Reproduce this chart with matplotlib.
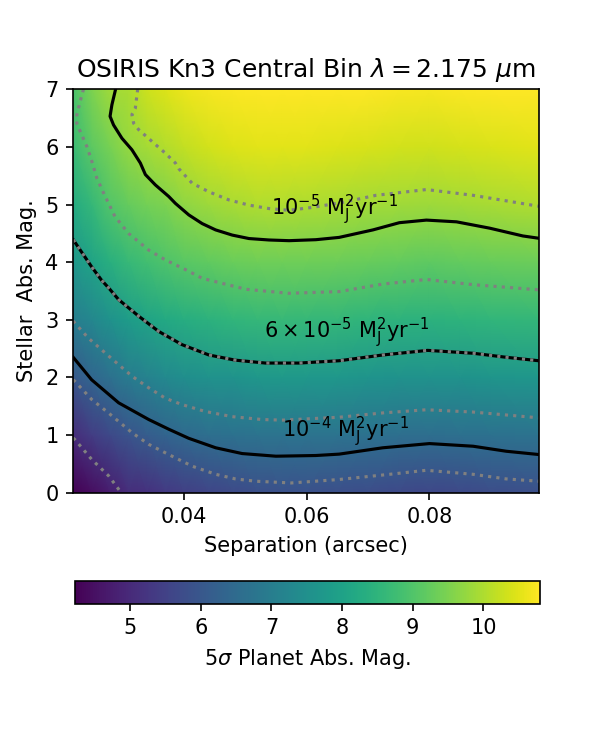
import numpy as np
import matplotlib.pyplot as plt

# sensitivity map: 5-sigma planet abs. mag on a (stellar mag x separation) grid
sep = [0.022, 0.025, 0.028, 0.031, 0.034, 0.037, 0.040, 0.044, 0.048, 0.052,
       0.056, 0.060, 0.065, 0.070, 0.075, 0.080, 0.085, 0.090, 0.0978]
stellar_mag = [0, 1, 2, 3, 4, 5, 6, 7]
planet_mag = [
    [4.22, 4.45, 4.75, 5.05, 5.13, 5.30, 5.45, 5.57, 5.70, 5.80, 5.84, 5.84, 5.80, 5.74, 5.67, 5.63, 5.68, 5.75, 5.82],
    [5.05, 5.40, 5.67, 5.93, 6.14, 6.32, 6.47, 6.60, 6.67, 6.72, 6.73, 6.73, 6.72, 6.67, 6.61, 6.58, 6.62, 6.68, 6.73],
    [6.04, 6.36, 6.65, 6.97, 7.13, 7.32, 7.45, 7.56, 7.60, 7.70, 7.75, 7.74, 7.69, 7.63, 7.57, 7.54, 7.57, 7.65, 7.71],
    [7.01, 7.26, 7.55, 7.83, 8.04, 8.20, 8.33, 8.43, 8.52, 8.59, 8.62, 8.61, 8.57, 8.51, 8.45, 8.42, 8.47, 8.53, 8.58],
    [7.71, 8.04, 8.38, 8.62, 8.81, 8.96, 9.08, 9.19, 9.29, 9.34, 9.36, 9.35, 9.31, 9.26, 9.21, 9.18, 9.22, 9.27, 9.31],
    [8.25, 8.60, 9.02, 9.25, 9.40, 9.51, 9.67, 9.84, 9.95, 10.01, 10.02, 10.00, 9.95, 9.90, 9.85, 9.83, 9.88, 9.94, 10.02],
    [8.70, 9.13, 9.45, 9.75, 9.92, 10.05, 10.20, 10.35, 10.45, 10.50, 10.50, 10.50, 10.45, 10.40, 10.36, 10.33, 10.38, 10.43, 10.50],
    [8.90, 9.50, 9.85, 9.97, 10.30, 10.45, 10.60, 10.70, 10.75, 10.80, 10.80, 10.80, 10.80, 10.78, 10.74, 10.72, 10.75, 10.78, 10.80],
]

# grey dotted lines: planet abs. mag = 5 ... 10 (mag 8 runs along the 6e-5 line)
mag5_sep = [0.0220, 0.0223, 0.0250, 0.0278, 0.0294, 0.0298]
mag5_y = [0.95, 0.92, 0.58, 0.29, 0.06, 0.0]
mag6_sep = [0.0220, 0.0223, 0.0250, 0.0278, 0.0316, 0.0343, 0.0376, 0.0414, 0.0452,
            0.0484, 0.0517, 0.0575, 0.0653, 0.0735, 0.0795, 0.0871, 0.0925, 0.0978]
mag6_y = [1.96, 1.93, 1.62, 1.38, 1.04, 0.84, 0.66, 0.46, 0.32,
          0.24, 0.20, 0.17, 0.23, 0.32, 0.39, 0.32, 0.24, 0.20]
mag7_sep = [0.0220, 0.0223, 0.0245, 0.0278, 0.0316, 0.0343, 0.0370, 0.0397, 0.0435,
            0.0479, 0.0528, 0.0561, 0.0653, 0.0724, 0.0795, 0.0871, 0.0978]
mag7_y = [2.98, 2.94, 2.68, 2.37, 2.02, 1.82, 1.64, 1.53, 1.41,
          1.32, 1.27, 1.26, 1.31, 1.385, 1.44, 1.40, 1.30]
mag9_sep = [0.02367, 0.02313, 0.02258, 0.02258, 0.02313, 0.02421, 0.02503, 0.02584,
            0.02694, 0.0288, 0.0310, 0.03429, 0.0370, 0.0403, 0.0430, 0.0501, 0.0571,
            0.0653, 0.0724, 0.0795, 0.0871, 0.0978]
mag9_y = [7.0, 6.79, 6.55, 6.41, 6.27, 6.01, 5.75, 5.46,
          5.20, 4.79, 4.50, 4.21, 4.04, 3.87, 3.72, 3.53, 3.46,
          3.49, 3.62, 3.70, 3.61, 3.52]
mag10_sep = [0.0325, 0.03211, 0.03156, 0.03184, 0.03265, 0.03456, 0.0370, 0.03864,
             0.0392, 0.04136, 0.0441, 0.04735, 0.05061, 0.05388, 0.05714, 0.0609,
             0.0660, 0.0713, 0.0795, 0.0871, 0.0978]
mag10_y = [7.0, 6.67, 6.56, 6.41, 6.30, 6.12, 5.89, 5.72,
           5.62, 5.37, 5.22, 5.08, 4.99, 4.93, 4.90, 4.95,
           5.04, 5.16, 5.26, 5.16, 4.97]

# accretion-rate lines (M * Mdot)
acc_1e5_sep = [0.0289, 0.0283, 0.0280, 0.02857, 0.02993, 0.03156, 0.03293, 0.03375,
               0.03538, 0.03755, 0.03864, 0.04082, 0.04299, 0.04518, 0.04789, 0.05061,
               0.05388, 0.05714, 0.0615, 0.0653, 0.0708, 0.0751, 0.0795, 0.0844,
               0.0898, 0.0952, 0.0978]
acc_1e5_y = [7.0, 6.73, 6.53, 6.38, 6.15, 5.95, 5.72, 5.52,
             5.34, 5.14, 5.02, 4.82, 4.67, 4.56, 4.47, 4.41,
             4.385, 4.373, 4.39, 4.43, 4.56, 4.685, 4.73, 4.70,
             4.59, 4.455, 4.415]
acc_6e5_sep = [0.0220, 0.0250, 0.0266, 0.0278, 0.0294, 0.0327, 0.0359, 0.0397, 0.0441,
               0.0484, 0.0533, 0.0588, 0.0620, 0.0653, 0.0724, 0.0797, 0.0871, 0.0925,
               0.0978]
acc_6e5_y = [4.39, 3.92, 3.69, 3.55, 3.35, 3.06, 2.80, 2.57, 2.39,
             2.30, 2.25, 2.25, 2.27, 2.29, 2.39, 2.47, 2.42, 2.35,
             2.29]
acc_1e4_sep = [0.0220, 0.0250, 0.0294, 0.0343, 0.0376, 0.0408, 0.0452, 0.0495, 0.0550,
               0.0615, 0.0653, 0.0724, 0.0800, 0.0871, 0.0925, 0.0978]
acc_1e4_y = [2.35, 1.96, 1.56, 1.27, 1.10, 0.945, 0.78, 0.68, 0.634,
             0.646, 0.67, 0.78, 0.853, 0.807, 0.72, 0.663]

fig = plt.figure(figsize=(4, 5), dpi=150)
ax = fig.add_axes([0.122, 0.343, 0.776, 0.538])

mesh = ax.pcolormesh(sep, stellar_mag, np.array(planet_mag),
                     shading="gouraud", cmap="viridis")

# accretion lines first, grey dotted mag lines on top
ax.plot(acc_1e5_sep, acc_1e5_y, color="black", lw=1.5)
ax.plot(acc_6e5_sep, acc_6e5_y, color="black", lw=1.5)
ax.plot(acc_1e4_sep, acc_1e4_y, color="black", lw=1.5)
for xs, ys in [(mag5_sep, mag5_y), (mag6_sep, mag6_y), (mag7_sep, mag7_y),
               (acc_6e5_sep, acc_6e5_y), (mag9_sep, mag9_y), (mag10_sep, mag10_y)]:
    ax.plot(xs, ys, color="gray", ls=":", lw=1.5)

ax.text(0.0645, 4.82, r"$10^{-5}$ M$_\mathrm{J}^2$yr$^{-1}$",
        ha="center", va="baseline")
ax.text(0.0665, 2.68, r"$6 \times 10^{-5}$ M$_\mathrm{J}^2$yr$^{-1}$",
        ha="center", va="baseline")
ax.text(0.0664, 0.97, r"$10^{-4}$ M$_\mathrm{J}^2$yr$^{-1}$",
        ha="center", va="baseline")

ax.set_xlim(sep[0], sep[-1])
ax.set_ylim(0, 7)
ax.set_xticks([0.04, 0.06, 0.08])
ax.set_yticks(range(8))
ax.set_xlabel("Separation (arcsec)")
ax.set_ylabel("Stellar  Abs. Mag.")
ax.set_title(r"OSIRIS Kn3 Central Bin $\lambda = 2.175$ $\mu$m")

cax = fig.add_axes([0.125, 0.195, 0.775, 0.031])
cb = fig.colorbar(mesh, cax=cax, orientation="horizontal")
cb.set_ticks([5, 6, 7, 8, 9, 10])
cb.set_label(r"5$\sigma$ Planet Abs. Mag.")

fig.savefig("out.png", dpi=150)
